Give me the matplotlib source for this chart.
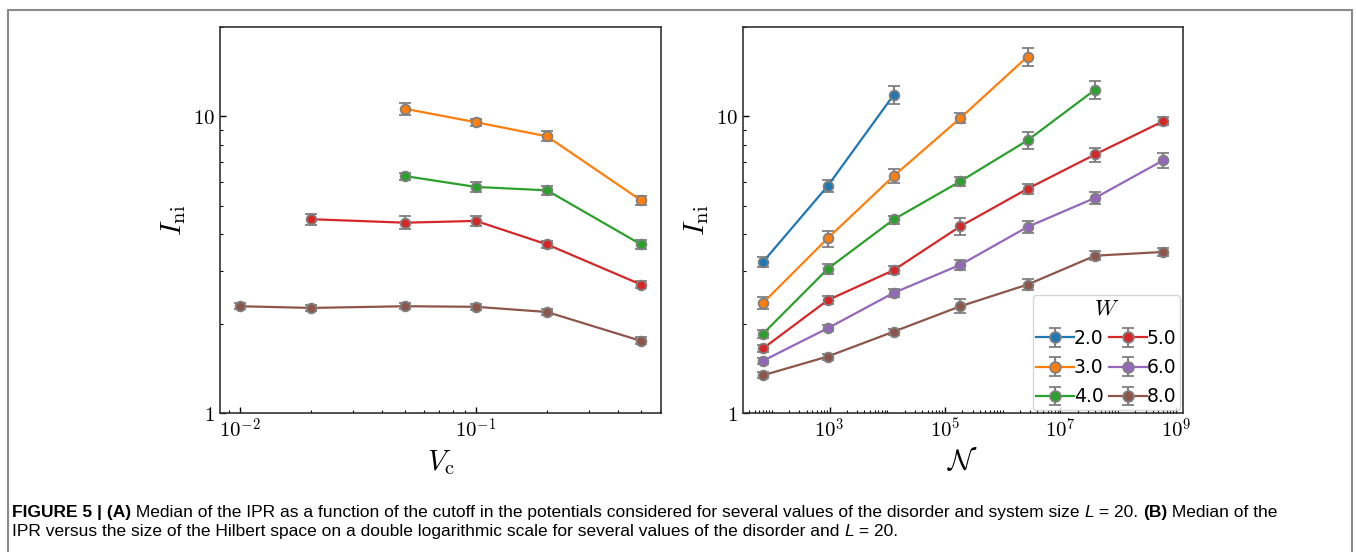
import matplotlib
matplotlib.use("Agg")
import matplotlib.pyplot as plt
import numpy as np
from matplotlib import font_manager
from matplotlib.ticker import FuncFormatter, FixedLocator, LogLocator, NullFormatter
from matplotlib.patches import Rectangle

plt.rcParams['mathtext.fontset'] = 'cm'
plt.rcParams['xtick.direction'] = 'in'
plt.rcParams['ytick.direction'] = 'in'

cols = {2.0: 'C0', 3.0: 'C1', 4.0: 'C2', 5.0: 'C3', 6.0: 'C4', 8.0: 'C5'}

# panel A : median IPR vs cutoff V_c
vc = [0.01, 0.02, 0.05, 0.1, 0.2, 0.5]
a_W = [3.0, 4.0, 5.0, 8.0]
a_y = {
    3.0: [None, None, 10.6, 9.55, 8.56, 5.21],
    4.0: [None, None, 6.29, 5.78, 5.63, 3.70],
    5.0: [None, 4.50, 4.38, 4.44, 3.70, 2.71],
    8.0: [2.29, 2.26, 2.29, 2.28, 2.19, 1.75],
}
a_err = {
    3.0: [None, None, 0.47, 0.26, 0.33, 0.18],
    4.0: [None, None, 0.17, 0.22, 0.18, 0.12],
    5.0: [None, 0.19, 0.22, 0.17, 0.10, 0.074],
    8.0: [0.053, 0.053, 0.053, 0.053, 0.05, 0.048],
}

# panel B : median IPR vs Hilbert space size
hilb = [70, 924, 12870, 184756, 2704156, 40116600, 601080390]
b_W = [2.0, 3.0, 4.0, 5.0, 6.0, 8.0]
b_y = {
    2.0: [3.23, 5.82, 11.8],
    3.0: [2.35, 3.88, 6.29, 9.87, 15.9],
    4.0: [1.85, 3.06, 4.49, 6.04, 8.30, 12.3],
    5.0: [1.65, 2.40, 3.03, 4.26, 5.70, 7.44, 9.62],
    6.0: [1.50, 1.93, 2.54, 3.16, 4.24, 5.31, 7.10],
    8.0: [1.34, 1.55, 1.88, 2.29, 2.71, 3.39, 3.49],
}
b_err = {
    2.0: [0.126, 0.26, 0.83],
    3.0: [0.11, 0.24, 0.33, 0.38, 1.08],
    4.0: [0.058, 0.12, 0.14, 0.21, 0.52, 0.86],
    5.0: [0.045, 0.075, 0.094, 0.27, 0.22, 0.41, 0.30],
    6.0: [0.035, 0.045, 0.079, 0.12, 0.20, 0.23, 0.41],
    8.0: [0.031, 0.036, 0.044, 0.125, 0.116, 0.119, 0.095],
}

W_, H_ = 1356, 552
fig = plt.figure(figsize=(W_ / 100, H_ / 100), dpi=100)
axA = fig.add_axes([220 / W_, 1 - 413 / H_, 441 / W_, 386 / H_])
axB = fig.add_axes([743 / W_, 1 - 413 / H_, 440 / W_, 386 / H_])

eb = dict(fmt='-o', ecolor='gray', mec='gray', capsize=4, ms=7, mew=1.3,
          lw=1.6, elinewidth=1.5, capthick=1.5)

for w in a_W:
    pts = [(x, y, e) for x, y, e in zip(vc, a_y[w], a_err[w]) if y is not None]
    xs, ys, es = zip(*pts)
    axA.errorbar(xs, ys, yerr=es, color=cols[w], **eb)

for w in b_W:
    n = len(b_y[w])
    axB.errorbar(hilb[:n], b_y[w], yerr=b_err[w], color=cols[w], label=f"{w:.1f}", **eb)

for ax in (axA, axB):
    ax.set_xscale('log')
    ax.set_yscale('log')
    ax.set_ylim(1, 20)
    ax.yaxis.set_major_formatter(FuncFormatter(lambda v, p: r"$%g$" % v))
    ax.yaxis.set_minor_formatter(NullFormatter())
    ax.xaxis.set_major_formatter(FuncFormatter(lambda v, p: r"$10^{%d}$" % round(np.log10(v))))
    ax.xaxis.set_minor_formatter(NullFormatter())
    ax.tick_params(which='major', length=4, width=1, labelsize=15)
    ax.tick_params(which='minor', length=2, width=0.8)
    for s in ax.spines.values():
        s.set_linewidth(1.2)
        s.set_color('#333333')
    ax.set_ylabel(r"$I_{\rm ni}$", fontsize=21)

axA.set_xlabel(r"$V_{\rm c}$", fontsize=21)
axB.set_xlabel(r"$\mathcal{N}$", fontsize=21)
axB.xaxis.set_major_locator(FixedLocator([1e3, 1e5, 1e7, 1e9]))
axB.xaxis.set_minor_locator(LogLocator(base=10, subs='all', numticks=30))

leg = axB.legend(title=r"$W$", loc='lower right', ncol=2, fontsize=13.5,
                 title_fontsize=16, handlelength=2.0, handletextpad=0.0,
                 columnspacing=0.3, borderaxespad=0.15, labelspacing=0.55,
                 borderpad=0.2, markerscale=1.1)

# outer frame of the figure
fig.patches.append(Rectangle((8 / W_, -0.1), (1352 - 8) / W_, 1.1 - 10 / H_,
                             transform=fig.transFigure, fill=False,
                             edgecolor='#8a8a8a', lw=1.5))

# caption, built piece by piece for mixed styles
cap_font = 'Liberation Sans'
try:
    font_manager.findfont('Liberation Sans Narrow', fallback_to_default=False)
    cap_font = 'Liberation Sans Narrow'
except Exception:
    pass

line1 = [("FIGURE 5 | (A)", 'bold', 'normal'),
         (" Median of the IPR as a function of the cutoff in the potentials considered for several values of the disorder and system size ", 'normal', 'normal'),
         ("L", 'normal', 'italic'),
         (" = 20. ", 'normal', 'normal'),
         ("(B)", 'bold', 'normal'),
         (" Median of the", 'normal', 'normal')]
line2 = [("IPR versus the size of the Hilbert space on a double logarithmic scale for several values of the disorder and ", 'normal', 'normal'),
         ("L", 'normal', 'italic'),
         (" = 20.", 'normal', 'normal')]

renderer = fig.canvas.get_renderer()


def draw_line(parts, x0, ybase, size):
    x = x0
    for txt, wt, st in parts:
        t = fig.text(x / W_, 1 - ybase / H_, txt, fontsize=size, fontweight=wt,
                     fontstyle=st, family=cap_font, va='baseline', ha='left')
        x += t.get_window_extent(renderer).width
    return x


# measure, then fit line 1 to its width in the reference
probe = fig.text(0, 0, "".join(p[0] for p in line1), fontsize=12, family=cap_font)
wid = probe.get_window_extent(renderer).width
probe.remove()
size = min(12 * (1278 - 12) / wid, 13.5)
draw_line(line1, 12, 517, size)
draw_line(line2, 12, 536, size)

fig.savefig("out.png", dpi=100)
